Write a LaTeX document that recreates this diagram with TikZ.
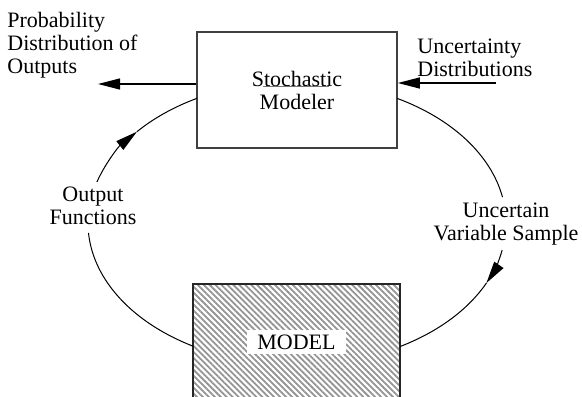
\documentclass[tikz,border=0pt]{standalone}
\usepackage{fontspec}
\setmainfont{Liberation Serif}
\usetikzlibrary{arrows.meta,patterns.meta}

\tikzset{
  box/.style={draw=black!75, line width=0.8pt, minimum width=100pt, minimum height=58pt, inner sep=0pt},
  hatchbox/.style={draw=black!85, line width=0.6pt, minimum width=103.5pt, minimum height=58pt, inner sep=0pt,
    pattern={Lines[angle=-45,distance=2.1pt,line width=0.9pt]}, pattern color=black!42},
  labeltext/.style={inner sep=0pt, font=\fontsize{11}{11.5}\selectfont},
  flow/.style={line width=0.5pt},
  feed/.style={line width=0.6pt},
  tip/.style={-{Triangle[length=11pt,width=5.5pt]}},
  loop/.style={x radius=209, y radius=142},
}

\begin{document}
\begin{tikzpicture}[x=0.5pt, y=-0.5pt, font=\fontsize{11}{11.5}\selectfont]
\useasboundingbox (0,0) rectangle (582,396);
\clip (0,0) rectangle (582,396);

% the two blocks
\node[box, align=center] (stoch) at (297,90) {Stochastic\\Modeler};
\draw[black!55, line width=0.4pt] (263,86.5) -- (329,86.5);
\node[hatchbox] (model) at (296.5,342) {};
\node[fill=white, minimum width=49.5pt, minimum height=12pt, inner sep=0pt] (modellabel) at (model.center) {MODEL};

% outside inputs and outputs
\node[labeltext, anchor=north west, align=left] (probout) at (7,12) {Probability\\Distribution of\\Outputs};
\node[labeltext, anchor=north west, align=left] (uncdist) at (417,39) {Uncertainty\\Distributions};
\coordinate (outTip) at (98,84);
\coordinate (inStart) at (496,83);
\draw[feed, tip] (outTip -| stoch.west) -- (outTip);
\draw[feed, tip] (inStart) -- (inStart -| stoch.east);

% loop labels
\node[labeltext, anchor=north, align=center] (outfun) at (93,187) {Output\\Functions};
\node[labeltext, anchor=north, align=center] (uncvar) at (506,203) {Uncertain\\Variable Sample};

% the loop: an ellipse broken at the two labels
\coordinate (loopc) at (297,223);
\draw[flow] ([shift={(-61.4:209 and 142)}]loopc) arc[loop, start angle=-61.4, end angle=-10.5];
\draw[flow, tip] ([shift={(11:209 and 142)}]loopc) arc[loop, start angle=11, end angle=25];
\draw[flow] ([shift={(25:209 and 142)}]loopc) arc[loop, start angle=25, end angle=60.5];
\draw[flow] ([shift={(119.8:209 and 142)}]loopc) arc[loop, start angle=119.8, end angle=176];
\draw[flow, tip] ([shift={(196.8:209 and 142)}]loopc) arc[loop, start angle=196.8, end angle=220];
\draw[flow] ([shift={(220:209 and 142)}]loopc) arc[loop, start angle=220, end angle=241.4];
\end{tikzpicture}
\end{document}
